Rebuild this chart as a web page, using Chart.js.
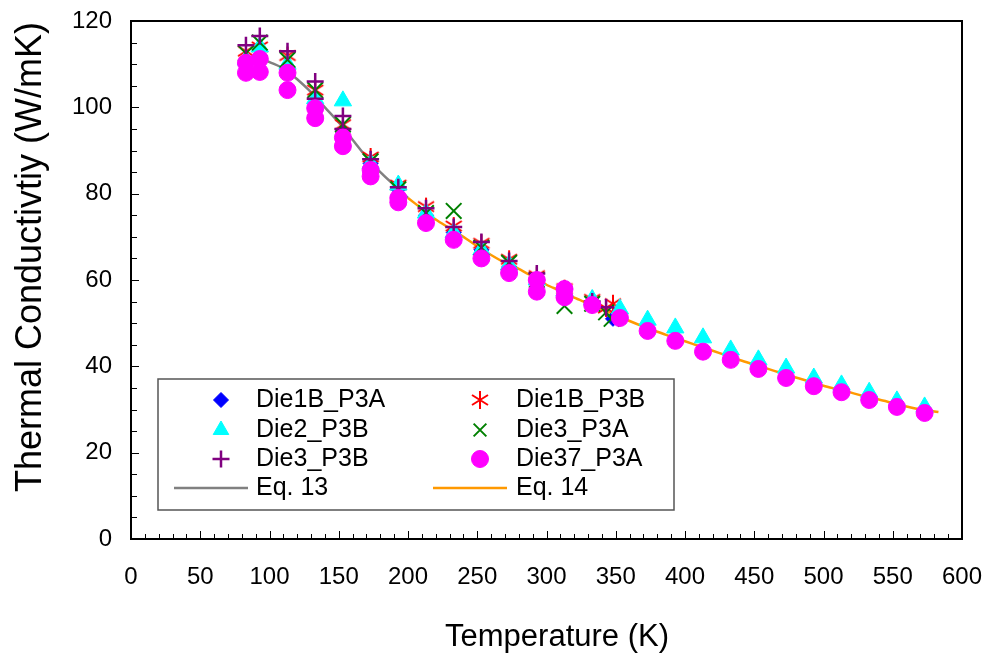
<!DOCTYPE html>
<html>
<head>
<meta charset="utf-8">
<script src="https://cdn.jsdelivr.net/npm/chart.js@4.4.1/dist/chart.umd.min.js"></script>
<style>
  html, body { margin: 0; padding: 0; background: #fff; }
  canvas { display: block; }
</style>
</head>
<body>
<canvas id="kChart" width="992" height="658"></canvas>
<script>
const d1bP3aT = [83, 93, 113, 133, 153, 173, 193, 213, 233, 253, 273, 293, 313, 333, 348];
const d1bP3aK = [110, 112, 108, 101, 94.5, 87, 81, 75, 71, 67, 63, 59.5, 57, 54, 51];

const d1bP3bT = [83, 93, 113, 133, 153, 173, 193, 213, 233, 253, 273, 293, 313, 333, 343, 348];
const d1bP3bK = [113, 114, 112, 104, 96, 88.5, 82, 77, 72.5, 68.5, 64.8, 61, 58, 55.5, 53.5, 54.5];

const d2P3bT = [83, 93, 113, 133, 153, 173, 193, 213, 233, 253, 273, 293, 313, 333, 353, 373, 393, 413, 433, 453, 473, 493, 513, 533, 553, 573];
const d2P3bK = [111, 114, 110, 102, 101.5, 87, 82, 75.5, 71, 67, 63.5, 60, 57.5, 55.5, 53.3, 50.7, 48.9, 46.6, 43.8, 41.5, 39.6, 37.3, 35.7, 34, 32, 30.6];

const d3P3aT = [83, 93, 113, 133, 153, 173, 193, 213, 233, 253, 273, 293, 313, 333, 343, 347];
const d3P3aK = [112.5, 115, 111, 104, 96, 87.5, 81, 75.5, 76, 67.5, 64, 60, 54, 54.5, 52.5, 51];

const d3P3bT = [83, 93, 113, 133, 133, 153, 153, 173, 193, 213, 233, 253, 273, 293, 313, 333, 343];
const d3P3bK = [114.4, 116.5, 113, 106, 102, 98, 95, 88, 81.5, 76.6, 72.3, 68.8, 64.4, 61.5, 58, 55, 53.7];

const d37P3aT = [83, 83, 93, 93, 113, 113, 133, 133, 153, 153, 173, 173, 193, 193, 213, 233, 253, 273, 293, 293, 313, 313, 333, 353, 373, 393, 413, 433, 453, 473, 493, 513, 533, 553, 573];
const d37P3aK = [108, 110.3, 108.2, 111.2, 104, 108, 97.5, 99.8, 91, 93, 84, 85.5, 78, 79, 73.2, 69.3, 65, 61.6, 57.3, 60, 56, 57.9, 54.2, 51.2, 48.2, 45.9, 43.4, 41.5, 39.4, 37.3, 35.4, 34, 32.2, 30.6, 29.2];

// Model curves
const eq13T = [90, 100, 110, 120, 130, 140, 150, 160, 170, 180, 190, 200];
const eq13K = [112, 110.5, 109, 106.5, 103.5, 100, 96.5, 92.5, 88.5, 85, 82, 79];

const eq14T = [200, 210, 220, 230, 240, 250, 260, 270, 280, 290, 300, 310, 320, 330, 340, 350, 360, 370, 380, 390, 400, 410, 420, 430, 440, 450, 460, 470, 480, 490, 500, 510, 520, 530, 540, 550, 560, 570, 583];
const eq14K = [79, 76.5, 74, 72, 70, 67.8, 65.8, 64, 62.6, 60.8, 58.9, 57.5, 55.9, 54.6, 53.2, 51.9, 50.5, 49.2, 48, 46.9, 45.8, 44.7, 43.6, 42.5, 41.4, 40.4, 39.4, 38.4, 37.4, 36.5, 35.5, 34.7, 33.9, 33, 32.3, 31.5, 30.7, 30, 29.4];

const xTicks = { min: 0, max: 600, step: 50 };
const yTicks = { min: 0, max: 120, step: 20 };
const xTitle = 'Temperature (K)';
const yTitle = 'Thermal Conductivtiy (W/mK)';

const FONT = 'Liberation Sans, Arial, sans-serif';

function pts(ts, ks) {
    return ts.map((t, i) => ({ x: t, y: ks[i] }));
}

// Excel-style six-spoke asterisk marker
function asteriskMarker(color) {
    const c = document.createElement('canvas');
    c.width = 20;
    c.height = 20;
    const g = c.getContext('2d');
    g.strokeStyle = color;
    g.lineWidth = 2;
    g.beginPath();
    g.moveTo(10, 1); g.lineTo(10, 19);
    g.moveTo(2, 5); g.lineTo(18, 15);
    g.moveTo(2, 15); g.lineTo(18, 5);
    g.stroke();
    return c;
}

function markerSet(label, ts, ks, style, color, radius, bw, order) {
    return {
        label: label,
        data: pts(ts, ks),
        showLine: false,
        pointStyle: style,
        pointRadius: radius,
        pointHoverRadius: radius,
        pointBackgroundColor: color,
        pointBorderColor: color,
        pointBorderWidth: bw,
        order: order
    };
}

function curveSet(label, ts, ks, color, order) {
    return {
        label: label,
        data: pts(ts, ks),
        showLine: true,
        borderColor: color,
        borderWidth: 2.5,
        pointRadius: 0,
        tension: 0.3,
        order: order
    };
}

const datasets = [
    markerSet('Die1B_P3A', d1bP3aT, d1bP3aK, 'rectRot', '#0000ff', 7.5, 1, 5),
    markerSet('Die1B_P3B', d1bP3bT, d1bP3bK, asteriskMarker('#ff0000'), '#ff0000', 9, 2, 4),
    markerSet('Die2_P3B', d2P3bT, d2P3bK, 'triangle', '#00ffff', 10, 1, 3),
    markerSet('Die3_P3A', d3P3aT, d3P3aK, 'crossRot', '#008000', 11, 2, 2),
    markerSet('Die3_P3B', d3P3bT, d3P3bK, 'cross', '#800080', 8.5, 2.5, 1),
    markerSet('Die37_P3A', d37P3aT, d37P3aK, 'circle', '#ff00ff', 8.5, 1, 0),
    curveSet('Eq. 13', eq13T, eq13K, '#808080', 7),
    curveSet('Eq. 14', eq14T, eq14K, '#ff9900', 6)
];

// frame, inward tick marks and axis titles like the original plot
const framePlugin = {
    id: 'frame',
    afterDraw(chart) {
        const { ctx, chartArea: a, scales } = chart;
        ctx.save();
        ctx.strokeStyle = '#000';
        ctx.lineWidth = 1;
        ctx.beginPath();
        for (let v = 0; v <= 600; v += 10) {
            const x = Math.round(scales.x.getPixelForValue(v)) + 0.5;
            const len = v % 50 === 0 ? 8 : 5;
            ctx.moveTo(x, a.bottom);
            ctx.lineTo(x, a.bottom - len);
        }
        for (let v = 0; v <= 120; v += 5) {
            const y = Math.round(scales.y.getPixelForValue(v)) + 0.5;
            const len = v % 20 === 0 ? 8 : 6;
            ctx.moveTo(a.left, y);
            ctx.lineTo(a.left + len, y);
        }
        ctx.stroke();
        ctx.lineWidth = 2;
        ctx.strokeRect(a.left, a.top, a.right - a.left, a.bottom - a.top);

        ctx.fillStyle = '#000';
        ctx.textAlign = 'center';
        ctx.textBaseline = 'middle';
        ctx.font = '31px ' + FONT;
        ctx.fillText(xTitle, 557, 637);
        ctx.translate(31, 257);
        ctx.rotate(-Math.PI / 2);
        ctx.font = '36px ' + FONT;
        ctx.fillText(yTitle, 0, 0);
        ctx.restore();
    }
};

// two-column boxed legend, as in the reference
const legendPlugin = {
    id: 'boxLegend',
    afterDraw(chart) {
        const { ctx } = chart;
        const box = { x: 158, y: 379, w: 516, h: 131 };
        const rows = [400, 430, 459, 488];
        const cols = [{ mark: 221, text: 256 }, { mark: 480, text: 516 }];
        ctx.save();
        ctx.fillStyle = '#fff';
        ctx.fillRect(box.x, box.y, box.w, box.h);
        ctx.strokeStyle = '#555';
        ctx.lineWidth = 1.5;
        ctx.strokeRect(box.x, box.y, box.w, box.h);
        ctx.font = '25px ' + FONT;
        ctx.textBaseline = 'middle';
        chart.data.datasets.forEach((ds, i) => {
            const col = cols[i % 2];
            const y = rows[Math.floor(i / 2)];
            if (ds.showLine) {
                ctx.strokeStyle = ds.borderColor;
                ctx.lineWidth = 2.5;
                ctx.beginPath();
                ctx.moveTo(col.mark - 47, y);
                ctx.lineTo(col.mark + 27, y);
                ctx.stroke();
            } else {
                ctx.fillStyle = ds.pointBackgroundColor;
                ctx.strokeStyle = ds.pointBorderColor;
                ctx.lineWidth = ds.pointBorderWidth;
                Chart.helpers.drawPoint(ctx, {
                    pointStyle: ds.pointStyle,
                    radius: Math.min(ds.pointRadius, 9),
                    rotation: 0,
                    borderWidth: ds.pointBorderWidth
                }, col.mark, y);
            }
            ctx.fillStyle = '#000';
            ctx.fillText(ds.label, col.text, y);
        });
        ctx.restore();
    }
};

const ctx = document.getElementById('kChart').getContext('2d');
new Chart(ctx, {
    type: 'scatter',
    data: { datasets: datasets },
    options: {
        responsive: false,
        animation: false,
        devicePixelRatio: 1,
        layout: { padding: { left: 0, top: 21, right: 30, bottom: 0 } },
        plugins: {
            legend: { display: false },
            tooltip: { enabled: false }
        },
        scales: {
            x: {
                type: 'linear',
                min: xTicks.min,
                max: xTicks.max,
                afterFit: (s) => { s.height = 119; s.paddingLeft = 0; s.paddingRight = 0; },
                grid: { display: false, drawTicks: false },
                border: { display: false },
                ticks: { stepSize: xTicks.step, padding: 24, color: '#000', font: { size: 24, family: FONT } }
            },
            y: {
                type: 'linear',
                min: yTicks.min,
                max: yTicks.max,
                afterFit: (s) => { s.width = 131; s.paddingTop = 0; s.paddingBottom = 0; },
                grid: { display: false, drawTicks: false },
                border: { display: false },
                ticks: { stepSize: yTicks.step, padding: 19, color: '#000', font: { size: 24, family: FONT } }
            }
        }
    },
    plugins: [framePlugin, legendPlugin]
});
</script>
</body>
</html>
